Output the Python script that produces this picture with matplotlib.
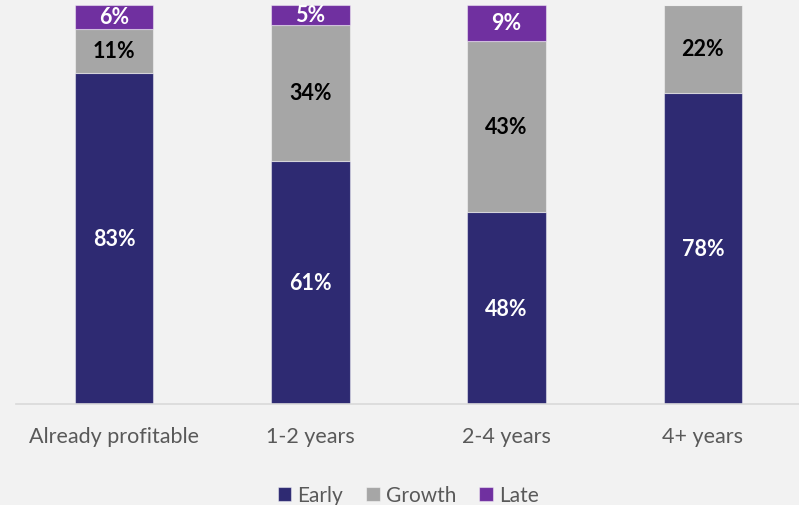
import matplotlib
matplotlib.use("Agg")
import matplotlib.pyplot as plt
import numpy as np

categories = ["Already profitable", "1-2 years", "2-4 years", "4+ years"]
early = [83, 61, 48, 78]
growth = [11, 34, 43, 22]
late = [6, 5, 9, 0]

series = [("Early", early, "#2E2A72", "white"),
          ("Growth", growth, "#A6A6A6", "black"),
          ("Late", late, "#7030A0", "white")]

plt.rcParams["font.family"] = ["Lato", "DejaVu Sans"]

fig = plt.figure(figsize=(7.99, 5.06), dpi=100, facecolor="#F2F2F2")
ax = fig.add_axes([0.02, 0.1996, 0.9825, 0.7885])
ax.set_facecolor("#F2F2F2")

x = np.arange(len(categories))
bottom = np.zeros(len(categories))
for name, vals, color, tcolor in series:
    vals = np.array(vals, dtype=float)
    ax.bar(x, vals, 0.4, bottom=bottom, color=color, label=name,
           edgecolor=(1, 1, 1, 0.45), linewidth=0.8)
    for xi, b, v in zip(x, bottom, vals):
        if v > 0:
            ax.text(xi, b + v / 2, f"{int(v)}%", ha="center", va="center",
                    color=tcolor, fontsize=15.5, fontweight="bold")
    bottom += vals

ax.set_xlim(-0.5, 3.5)
ax.set_ylim(0, 100)
ax.set_yticks([])
ax.set_xticks(x)
ax.set_xticklabels(categories, fontsize=15.5, color="#595959")
ax.tick_params(axis="x", length=0, pad=16)
for s in ["top", "right", "left"]:
    ax.spines[s].set_visible(False)
ax.spines["bottom"].set_color("#D9D9D9")
ax.spines["bottom"].set_linewidth(1.2)

leg = fig.legend(loc="lower center", bbox_to_anchor=(0.511, -0.038), ncol=3,
                 frameon=False, fontsize=15, handlelength=0.65, handleheight=0.65,
                 handletextpad=0.3, columnspacing=1.1)
for t in leg.get_texts():
    t.set_color("#595959")

fig.savefig("out.png", dpi=100, facecolor=fig.get_facecolor())
